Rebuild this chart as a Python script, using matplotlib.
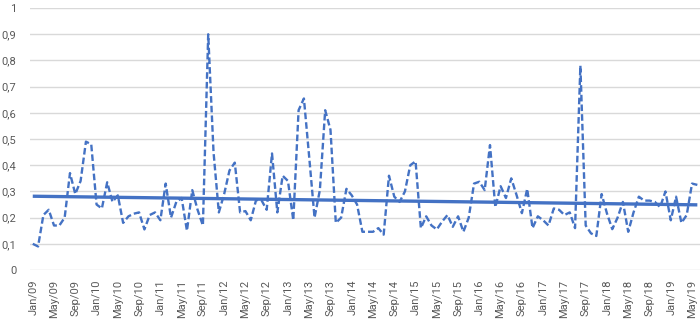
import numpy as np
import matplotlib
matplotlib.use("Agg")
import matplotlib.pyplot as plt

plt.rcParams["font.family"] = ["Roboto", "DejaVu Sans"]

# monthly values, Jan/09 .. Jun/19
values = [
    0.10, 0.09, 0.21, 0.23, 0.17, 0.17, 0.20, 0.37, 0.29, 0.34, 0.49, 0.48,
    0.25, 0.235, 0.335, 0.26, 0.285, 0.18, 0.205, 0.215, 0.22, 0.155, 0.21, 0.22,
    0.19, 0.33, 0.20, 0.26, 0.275, 0.15, 0.305, 0.23, 0.17, 0.90, 0.45, 0.22,
    0.29, 0.38, 0.41, 0.22, 0.225, 0.19, 0.267, 0.267, 0.23, 0.445, 0.22, 0.36,
    0.34, 0.19, 0.61, 0.655, 0.43, 0.20, 0.305, 0.61, 0.535, 0.18, 0.20, 0.31,
    0.285, 0.25, 0.146, 0.146, 0.146, 0.16, 0.135, 0.36, 0.28, 0.26, 0.30, 0.40,
    0.415, 0.16, 0.205, 0.17, 0.155, 0.185, 0.21, 0.165, 0.205, 0.146, 0.20, 0.33,
    0.337, 0.305, 0.477, 0.24, 0.32, 0.275, 0.35, 0.286, 0.217, 0.31, 0.16, 0.205,
    0.19, 0.17, 0.235, 0.23, 0.21, 0.22, 0.16, 0.78, 0.17, 0.14, 0.13, 0.29,
    0.216, 0.156, 0.20, 0.26, 0.146, 0.22, 0.28, 0.265, 0.265, 0.26, 0.24, 0.30,
    0.19, 0.28, 0.18, 0.21, 0.33, 0.325,
]

tick_labels = [
    "Jan/09", "May/09", "Sep/09", "Jan/10", "May/10", "Sep/10",
    "Jan/11", "May/11", "Sep/11", "Jan/12", "May/12", "Sep/12",
    "Jan/13", "May/13", "Sep/13", "Jan/14", "May/14", "Sep/14",
    "Jan/15", "May/15", "Sep/15", "Jan/16", "May/16", "Sep/16",
    "Jan/17", "May/17", "Sep/17", "Jan/18", "May/18", "Sep/18",
    "Jan/19", "May/19",
]
y_ticks = [0, 0.1, 0.2, 0.3, 0.4, 0.5, 0.6, 0.7, 0.8, 0.9, 1]

blue = "#4472C4"
grey_txt = "#595959"

x = np.arange(len(values))
slope, icpt = np.polyfit(x, values, 1)

fig = plt.figure(figsize=(7, 3.23), dpi=100)
ax = fig.add_axes([0.043, 0.164, 0.957, 0.811])

ax.plot(x, values, color=blue, lw=1.7, dashes=(2.8, 1.3), zorder=3)
ax.plot(x, slope * x + icpt - 0.003, color=blue, lw=2.4, solid_capstyle="butt", zorder=4)

ax.set_xlim(-0.5, len(values) - 0.5)
ax.set_ylim(0, 1)
ax.set_yticks(y_ticks)
ax.set_yticklabels([f"{t:g}".replace(".", ",") for t in y_ticks], fontsize=8, color=grey_txt)
ax.set_xticks(x[::4])
ax.set_xticklabels(tick_labels, rotation=90, fontsize=8, color=grey_txt)
ax.tick_params(axis="both", length=0)
ax.tick_params(axis="y", pad=10)
ax.tick_params(axis="x", pad=7)

ax.grid(axis="y", color="#d9d9d9", lw=1)
ax.set_axisbelow(True)
for s in ax.spines.values():
    s.set_visible(False)

fig.savefig("out.png", dpi=100)
